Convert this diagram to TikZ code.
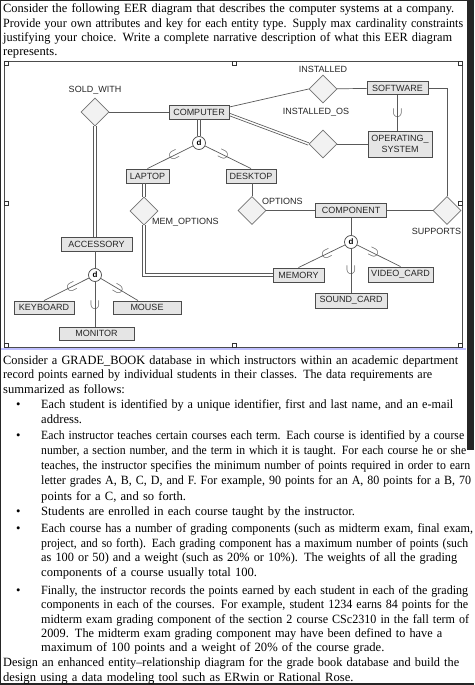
\documentclass[tikz,border=0pt]{standalone}
\usepackage{fontspec}
\usepackage{graphicx}
\usetikzlibrary{shapes.geometric}
\setmainfont{Liberation Serif}
\newfontfamily\erfont{Liberation Sans}
\newcommand\fitline[2]{\resizebox{#1pt}{\height}{#2}}

\tikzset{
  entity/.style={draw=black!70, fill=black!10, line width=0.9pt, inner sep=0pt, align=center,
    font=\erfont\fontsize{9}{11}\selectfont, text=black!85},
  rel/.style={diamond, draw=black!55, fill=black!5, line width=0.7pt, minimum width=28pt,
    minimum height=28pt, inner sep=0pt},
  dis/.style={circle, draw=black!70, fill=white, line width=0.7pt, inner sep=0pt, minimum size=13pt,
    font=\erfont\bfseries\fontsize{8}{8}\selectfont},
  lbl/.style={inner sep=0pt, font=\erfont\fontsize{9}{10}\selectfont, text=black!85},
  link/.style={draw=black!65, line width=0.7pt},
  dbllink/.style={draw=black!65, line width=0.65pt},
  sub/.style={sloped, allow upside down, inner sep=0pt, text=black!70, font=\fontsize{14}{14}\selectfont},
  txt/.style={anchor=base west, inner sep=0pt, text width=470pt, align=left,
    font=\fontsize{12.6}{#1}\selectfont},
  txt/.default=14.5,
  dot/.style={anchor=base west, inner sep=0pt, font=\fontsize{12.6}{14.5}\selectfont},
  frame/.style={draw=black!70, line width=0.8pt},
  handle/.style={draw=black!80, fill=white, line width=0.5pt},
}

\begin{document}
\begin{tikzpicture}[x=1pt, y=-1pt]
  \useasboundingbox (0,0) rectangle (474,685);
  \fill[white] (0,0) rectangle (474,685);
  \fill[black!85] (0,0) rectangle (474,1.5);
  \fill[black!85] (0,0) rectangle (1,685);
  \fill[black!85] (466.5,0) rectangle (474,450);
  \fill[black!85] (0,682.5) rectangle (474,685);

  % question text
  \node[txt=14.3] (intro) at (3,13) {%
    \fitline{451}{Consider the following EER diagram that describes the computer systems at a company.}\\
    \fitline{460}{Provide your own attributes and key for each entity type. Supply max cardinality constraints}\\
    \fitline{449}{justifying your choice. Write a complete narrative description of what this EER diagram}\\
    represents.};

  \node[txt] (grade) at (3,364) {%
    \fitline{455}{Consider a GRADE\_BOOK database in which instructors within an academic department}\\
    \fitline{429}{record points earned by individual students in their classes. The data requirements are}\\
    summarized as follows:};

  \foreach \yy [count=\i] in {408.5,439.3,515.7,532.3,594.3}
    \node[dot] (dot\i) at (16,\yy) {\textbullet};

  \node[txt] (itemA) at (41,408.5) {%
    \fitline{412}{Each student is identified by a unique identifier, first and last name, and an e-mail}\\
    address.};
  \node[txt=15.2] (itemB) at (41,439.3) {%
    \fitline{423}{Each instructor teaches certain courses each term. Each course is identified by a course}\\
    \fitline{425}{number, a section number, and the term in which it is taught. For each course he or she}\\
    \fitline{429}{teaches, the instructor specifies the minimum number of points required in order to earn}\\
    \fitline{430}{letter grades A, B, C, D, and F. For example, 90 points for an A, 80 points for a B, 70}\\
    points for a C, and so forth.};
  \node[txt] (itemC) at (41,515.7) {Students are enrolled in each course taught by the instructor.};
  \node[txt=14.8] (itemD) at (41,532.3) {%
    \fitline{432}{Each course has a number of grading components (such as midterm exam, final exam,}\\
    \fitline{427}{project, and so forth). Each grading component has a maximum number of points (such}\\
    \fitline{416}{as 100 or 50) and a weight (such as 20\% or 10\%). The weights of all the grading}\\
    components of a course usually total 100.};
  \node[txt=14.35] (itemE) at (41,594.3) {%
    \fitline{427}{Finally, the instructor records the points earned by each student in each of the grading}\\
    \fitline{427}{components in each of the courses. For example, student 1234 earns 84 points for the}\\
    \fitline{428}{midterm exam grading component of the section 2 course CSc2310 in the fall term of}\\
    \fitline{401}{2009. The midterm exam grading component may have been defined to have a}\\
    maximum of 100 points and a weight of 20\% of the course grade.};

  \node[txt=14.3] (design) at (3,666.7) {%
    \fitline{456}{Design an enhanced entity--relationship diagram for the grade book database and build the}\\
    design using a data modeling tool such as ERwin or Rational Rose.};

  % picture frame
  \draw[blue!25, line width=1.2pt] (1,349) -- (466,349);
  \draw[frame] (4,61.5) rectangle (462,347);
  \foreach \hx/\hy in {4/61,232/61,458/61,4/201.5,458/201.5,4/343,232/343,458/343}
    \draw[handle] (\hx,\hy) rectangle ++(4,4);

  % entities
  \node[entity, minimum width=60pt, minimum height=14pt] (computer) at (199,112) {COMPUTER};
  \node[entity, minimum width=61pt, minimum height=12.5pt] (software) at (397.5,88) {SOFTWARE};
  \node[entity, minimum width=64pt, minimum height=26pt] (opsys) at (400,144) {OPERATING\_\\SYSTEM};
  \node[entity, minimum width=43pt, minimum height=14pt] (laptop) at (147.5,176) {LAPTOP};
  \node[entity, minimum width=50pt, minimum height=14pt] (desktop) at (251,176) {DESKTOP};
  \node[entity, minimum width=71pt, minimum height=14pt] (component) at (351,210.5) {COMPONENT};
  \node[entity, minimum width=51pt, minimum height=14pt] (memory) at (298.5,275) {MEMORY};
  \node[entity, minimum width=65pt, minimum height=15pt] (videocard) at (400.5,274.5) {VIDEO\_CARD};
  \node[entity, minimum width=72pt, minimum height=15pt] (soundcard) at (351,300.5) {SOUND\_CARD};
  \node[entity, minimum width=71pt, minimum height=14pt] (accessory) at (96.5,244) {ACCESSORY};
  \node[entity, minimum width=60pt, minimum height=13pt] (keyboard) at (44,307.5) {KEYBOARD};
  \node[entity, minimum width=68pt, minimum height=13pt] (mouse) at (147,307.5) {MOUSE};
  \node[entity, minimum width=75pt, minimum height=13pt] (monitor) at (96.5,333.5) {MONITOR};

  % relationships
  \node[rel] (sold) at (95,112) {};
  \node[rel] (installed) at (323,89) {};
  \node[rel] (instos) at (323,144) {};
  \node[rel] (memopt) at (144,211) {};
  \node[rel] (options) at (252,210.5) {};
  \node[rel] (supports) at (447,210.5) {};

  \node[lbl] (soldlbl) at (95,90.5) {SOLD\_WITH};
  \node[lbl] (instlbl) at (323,69) {INSTALLED};
  \node[lbl] (instoslbl) at (316,112.5) {INSTALLED\_OS};
  \node[lbl, anchor=west] (memoptlbl) at (152,222) {MEM\_OPTIONS};
  \node[lbl, anchor=west] (optionslbl) at (262,201) {OPTIONS};
  \node[lbl] (supportslbl) at (436.5,231.5) {SUPPORTS};

  % disjoint specializations
  \node[dis] (dcomp) at (199,143) {d};
  \node[dis] (dpart) at (351,242) {d};
  \node[dis] (dacc) at (95,275) {d};

  \coordinate (lapbot) at (laptop.south -| memopt);
  \coordinate (accbot) at (sold.south |- accessory.north);
  \coordinate (compos) at ([yshift=-2.5pt]computer.east);

  \draw[link] (sold) -- (computer);
  \draw[link] ([yshift=5pt]computer.east) -- (installed.west);
  \draw[link] (installed) -- (software);
  \draw[link] (instos) -- (opsys);
  \draw[link] (software.south) -- node[sub, pos=0.5] {$\supset$} (software.south |- opsys.north);
  \draw[link] (software.east) -| (supports.north);
  \draw[link] (options) -- (component);
  \draw[link] (component) -- (supports);

  % total participation: two parallel lines
  \foreach \o [evaluate=\o as \dx using -0.4*\o, evaluate=\o as \dy using 0.92*\o] in {-1.2,1.2} {
    \draw[dbllink] ([shift={(\dx,\dy)}]compos) -- ([shift={(\dx,\dy)}]instos.west);
    \draw[dbllink] ([xshift=\o pt]computer.south) -- ([xshift=\o pt]dcomp.north);
    \draw[dbllink] ([xshift=\o pt]lapbot) -- ([xshift=\o pt]memopt.north);
    \draw[dbllink] ([xshift=\o pt]memopt.south) |- ([yshift=\o pt]memory.west);
    \draw[dbllink] ([xshift=\o pt]sold.south) -- ([xshift=\o pt]accbot);
  }

  \draw[link] (dcomp) -- node[sub, pos=0.42] {$\supset$} (laptop.north);
  \draw[link] (dcomp) -- node[sub, pos=0.4] {$\supset$} (desktop.north);
  \draw[link] (desktop.south -| options) -- (options.north);

  \draw[link] (component) -- (dpart);
  \draw[link] (dpart) -- node[sub, pos=0.4] {$\supset$} (memory.north);
  \draw[link] (dpart) -- node[sub, pos=0.38] {$\supset$} (videocard.north);
  \draw[link] (dpart) -- node[sub, pos=0.48] {$\supset$} (soundcard.north);

  \draw[link] (accessory.south -| dacc) -- (dacc);
  \draw[link] (dacc) -- node[sub, pos=0.39] {$\supset$} (keyboard.north);
  \draw[link] (dacc) -- node[sub, pos=0.47] {$\supset$} ([xshift=-9pt]mouse.north);
  \draw[link] (dacc) -- node[sub, pos=0.52] {$\supset$} (dacc |- monitor.north);

\end{tikzpicture}
\end{document}
